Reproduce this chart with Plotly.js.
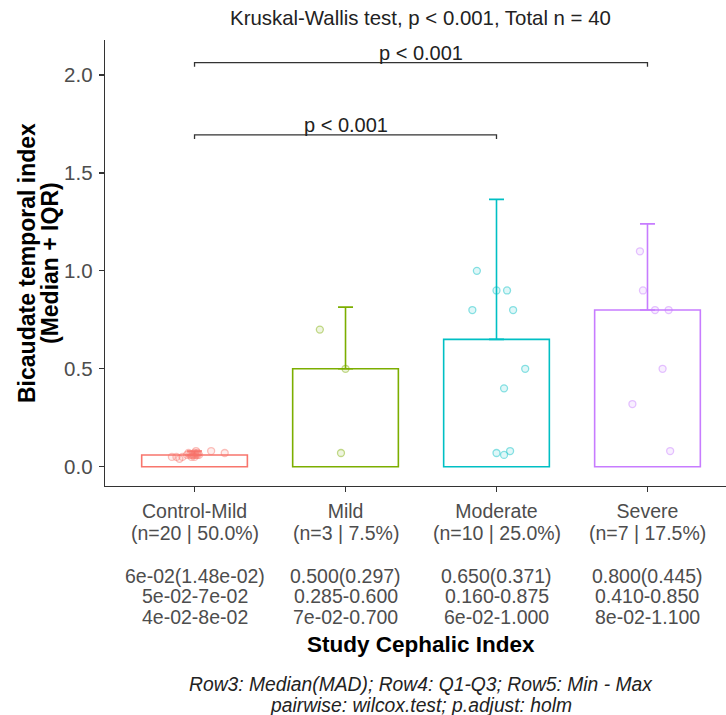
<!DOCTYPE html>
<html><head><meta charset="utf-8">
<script src="https://cdn.plot.ly/plotly-3.0.1.min.js"></script>
<style>html,body{margin:0;padding:0;background:#fff;} #chart{width:726px;height:715px;}</style>
</head><body><div id="chart"></div>
<script>
// ---- data ----
const categories = ["Control-Mild", "Mild", "Moderate", "Severe"];
const nLabels = ["(n=20 | 50.0%)", "(n=3 | 7.5%)", "(n=10 | 25.0%)", "(n=7 | 17.5%)"];
const medianMad = ["6e-02(1.48e-02)", "0.500(0.297)", "0.650(0.371)", "0.800(0.445)"];
const q1q3 = ["5e-02-7e-02", "0.285-0.600", "0.160-0.875", "0.410-0.850"];
const minMax = ["4e-02-8e-02", "7e-02-0.700", "6e-02-1.000", "8e-02-1.100"];
const medians = [0.06, 0.50, 0.65, 0.80];
const iqrs = [0.02, 0.315, 0.715, 0.44];
const colors = ["#F8766D", "#7CAE00", "#00BFC4", "#C77CFF"];

const pointsControlMild = [0.04, 0.05, 0.05, 0.05, 0.05, 0.05, 0.06, 0.06, 0.06, 0.06, 0.06, 0.06, 0.06, 0.06, 0.07, 0.07, 0.07, 0.07, 0.08, 0.08];
const jitterControlMild = [-0.10, -0.15, -0.12, -0.02, 0.00, -0.08, -0.05, -0.03, -0.01, 0.00, 0.01, 0.02, 0.03, -0.02, 0.00, 0.02, 0.20, -0.04, 0.11, 0.01];
const pointsMild = [0.07, 0.50, 0.70];
const jitterMild = [-0.03, 0.00, -0.17];
const pointsModerate = [0.06, 0.07, 0.08, 0.40, 0.50, 0.80, 0.80, 0.90, 0.90, 1.00];
const jitterModerate = [0.05, 0.00, 0.09, 0.05, 0.19, -0.16, 0.11, 0.00, 0.07, -0.13];
const pointsSevere = [0.08, 0.32, 0.50, 0.80, 0.80, 0.90, 1.10];
const jitterSevere = [0.15, -0.10, 0.10, 0.05, 0.14, -0.03, -0.05];

const compFrom = [0, 0];
const compTo = [2, 3];
const compLabels = ["p < 0.001", "p < 0.001"];
const compHeights = [1.694, 2.063];

const titleText = "Kruskal-Wallis test, p < 0.001, Total n = 40";
const yTitleLines = ["Bicaudate temporal index", "(Median + IQR)"];
const xTitleText = "Study Cephalic Index";
const captionLines = ["Row3: Median(MAD); Row4: Q1-Q3; Row5: Min - Max", "pairwise: wilcox.test; p.adjust: holm"];

// ---- build ----
const FONT = "Liberation Sans, Arial, sans-serif";
function rgba(hex, a) {
  const r = parseInt(hex.slice(1,3),16), g = parseInt(hex.slice(3,5),16), b = parseInt(hex.slice(5,7),16);
  return `rgba(${r},${g},${b},${a})`;
}
const groupPoints = [pointsControlMild, pointsMild, pointsModerate, pointsSevere];
const groupJitter = [jitterControlMild, jitterMild, jitterModerate, jitterSevere];

const traces = [];
categories.forEach((c, i) => {
  traces.push({
    type: 'bar', x: [i], y: [medians[i]], width: 0.7,
    marker: {color: 'rgba(255,255,255,0)', line: {color: colors[i], width: 1.6}},
    error_y: {type: 'data', symmetric: false, array: [iqrs[i]], arrayminus: [0],
              color: colors[i], thickness: 1.6, width: 7.5},
    hoverinfo: 'skip'
  });
});
categories.forEach((c, i) => {
  traces.push({
    type: 'scatter', mode: 'markers',
    x: groupPoints[i].map((v, k) => i + groupJitter[i][k]), y: groupPoints[i],
    marker: {size: 7, color: rgba(colors[i], 0.12), line: {color: rgba(colors[i], 0.45), width: 1.3}},
    hoverinfo: 'skip'
  });
});
compHeights.forEach((h, k) => {
  traces.push({
    type: 'scatter', mode: 'lines',
    x: [compFrom[k], compFrom[k], compTo[k], compTo[k]],
    y: [h - 0.02, h, h, h - 0.02],
    line: {color: '#333333', width: 1.3}, hoverinfo: 'skip'
  });
});

const AXIS_Y_PX = 486; // bottom of plot area
const annotations = [];
compHeights.forEach((h, k) => {
  annotations.push({x: (compFrom[k] + compTo[k]) / 2, y: h, xref: 'x', yref: 'y',
    text: compLabels[k], showarrow: false, yanchor: 'bottom', yshift: -3,
    font: {family: FONT, size: 20, color: '#222'}});
});
const rowCenters = [532.5, 575.5, 596, 616.5];
const rowArrays = [nLabels, medianMad, q1q3, minMax];
rowArrays.forEach((arr, r) => {
  arr.forEach((t, i) => {
    annotations.push({x: i, y: 0, xref: 'x', yref: 'paper', text: t, showarrow: false,
      yanchor: 'middle', yshift: -(rowCenters[r] - AXIS_Y_PX),
      font: {family: FONT, size: 19.5, color: '#4D4D4D'}});
  });
});
annotations.push({x: 1.5, y: 0, xref: 'x', yref: 'paper', text: '<b>' + xTitleText + '</b>',
  showarrow: false, yanchor: 'middle', yshift: -(644 - AXIS_Y_PX),
  font: {family: FONT, size: 22.5, color: '#000'}});
const capCenters = [684, 705];
captionLines.forEach((t, k) => {
  annotations.push({x: 1.5, y: 0, xref: 'x', yref: 'paper', text: '<i>' + t + '</i>',
    showarrow: false, yanchor: 'middle', yshift: -(capCenters[k] - AXIS_Y_PX),
    font: {family: FONT, size: 19.3, color: '#222'}});
});
const yTitleX = [27, 50];
yTitleLines.forEach((t, k) => {
  annotations.push({x: 0, y: 0.5, xref: 'paper', yref: 'paper', text: '<b>' + t + '</b>',
    showarrow: false, textangle: -90, xanchor: 'center', yanchor: 'middle',
    xshift: yTitleX[k] - 105, font: {family: FONT, size: 23, color: '#000'}});
});

const layout = {
  width: 726, height: 715,
  margin: {l: 105, r: 0, t: 40, b: 229, pad: 0},
  paper_bgcolor: '#fff', plot_bgcolor: '#fff',
  showlegend: false, barmode: 'overlay',
  title: {text: titleText, xref: 'paper', x: 0.508, xanchor: 'center',
          yref: 'container', y: 1 - 18 / 715, yanchor: 'middle',
          font: {family: FONT, size: 20.4, color: '#222'}},
  xaxis: {range: [-0.593, 3.52], tickmode: 'array', tickvals: [0, 1, 2, 3], ticktext: categories,
          ticks: 'outside', ticklen: 5, tickcolor: '#333', tickwidth: 1.2,
          showline: true, linecolor: '#333', linewidth: 1.3, showgrid: false, zeroline: false,
          ticklabelstandoff: 2,
          tickfont: {family: FONT, size: 19.5, color: '#4D4D4D'}},
  yaxis: {range: [-0.0986, 2.179], tickmode: 'array', tickvals: [0, 0.5, 1, 1.5, 2], tickformat: '.1f',
          ticks: 'outside', ticklen: 5, tickcolor: '#333', tickwidth: 1.2,
          showline: true, linecolor: '#333', linewidth: 1.3, showgrid: false, zeroline: false,
          ticklabelstandoff: 2,
          tickfont: {family: FONT, size: 20.5, color: '#4D4D4D'}},
  annotations: annotations
};
Plotly.newPlot('chart', traces, layout, {displayModeBar: false, staticPlot: true});
</script>
</body></html>
